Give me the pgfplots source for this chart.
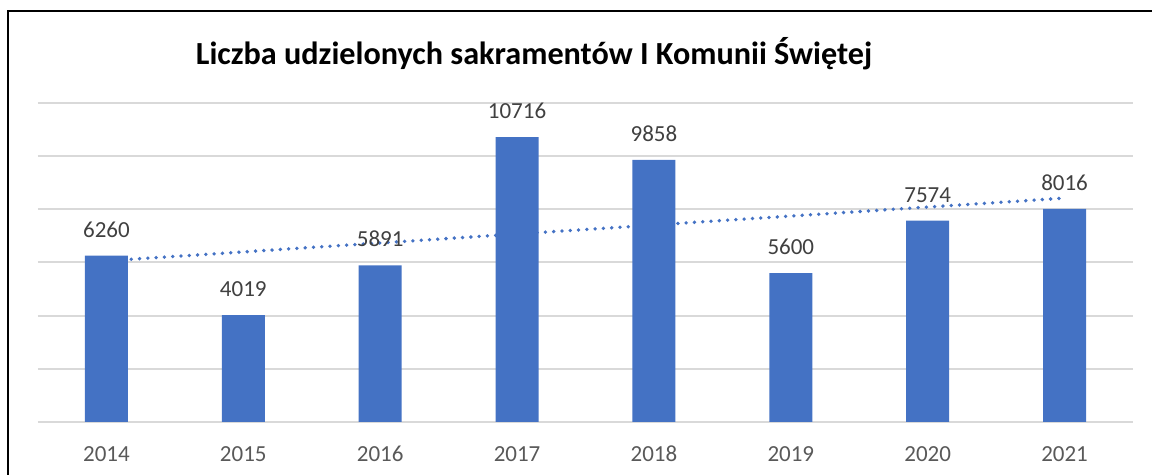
\documentclass[border=0pt]{standalone}
\usepackage{pgfplots}
\pgfplotsset{compat=1.18}
\usepackage{fontspec}
\setmainfont{Carlito}
\definecolor{barblue}{HTML}{4472C4}
\definecolor{gridgray}{HTML}{D9D9D9}
\definecolor{ticktext}{HTML}{595959}
\definecolor{labeltext}{HTML}{404040}
\begin{document}
\begin{tikzpicture}[x=1pt,y=1pt]
\path[use as bounding box] (0,0) rectangle (576,237.5);
\draw[line width=1pt] (4,-2) -- (4,232) -- (578,232);
\node[font=\bfseries\fontsize{16.1}{19}\selectfont] at (267,210.5) {Liczba udzielonych sakramentów I Komunii Świętej};
\begin{axis}[
  at={(19pt,26.5pt)}, anchor=south west,
  width=547.5pt, height=159.5pt, scale only axis,
  xmin=-0.5, xmax=7.5, ymin=0, ymax=12000,
  xtick={0,...,7}, xticklabels={2014,2015,2016,2017,2018,2019,2020,2021},
  ytick={0,2000,...,12000}, yticklabels={}, scaled y ticks=false,
  ymajorgrids, grid style={gridgray, line width=1pt},
  axis line style={draw=none},
  major tick length=0pt, tick style={draw=none},
  xticklabel style={font=\fontsize{11.5}{13}\selectfont, text=ticktext, inner sep=0pt, text height=8pt, text depth=0pt, yshift=-11.5pt},
  clip=false,
  /pgf/number format/.cd, fixed, precision=0, 1000 sep={}, assume math mode=true,
]
\addplot[ybar, bar width=21.5pt, fill=barblue, draw=none,
  nodes near coords,
  every node near coord/.append style={font=\fontsize{11.5}{13}\selectfont, text=labeltext, anchor=south, inner sep=0pt, text depth=0pt, yshift=9pt}]
  coordinates {(0,6260) (1,4019) (2,5891) (3,10716) (4,9858) (5,5600) (6,7574) (7,8016)};
\addplot[barblue, line width=1.9pt, line cap=round, dash pattern=on 0pt off 4.15pt]
  coordinates {(0,6061) (7,8422)};
\end{axis}
\end{tikzpicture}
\end{document}
